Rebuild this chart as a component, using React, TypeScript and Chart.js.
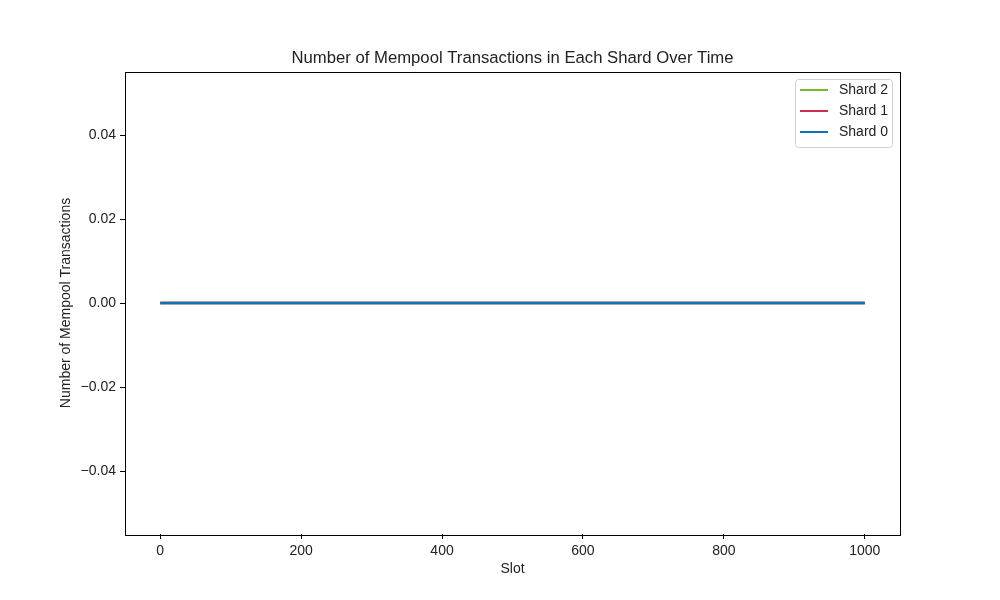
import React, { useEffect, useRef } from "react";
import { Chart, registerables } from "chart.js";

Chart.register(...registerables);

const slots = [0, 1000];
const shard0 = [0, 0];
const shard1 = [0, 0];
const shard2 = [0, 0];
const seriesNames = ["Shard 0", "Shard 1", "Shard 2"];
const seriesColors = ["#1270b5", "#cc2f4c", "#7ab930"];
const xTicks = [0, 200, 400, 600, 800, 1000];
const yTicks = [-0.04, -0.02, 0, 0.02, 0.04];
const yTickLabels = ["\u22120.04", "\u22120.02", "0.00", "0.02", "0.04"];
const title = "Number of Mempool Transactions in Each Shard Over Time";
const xLabel = "Slot";
const yLabel = "Number of Mempool Transactions";

const FONT = "'Liberation Sans', Arial, sans-serif";

export default function App() {
  const ref = useRef<HTMLCanvasElement | null>(null);
  useEffect(() => {
    if (!ref.current) return;
    const series = [shard0, shard1, shard2];
    const decor = {
      id: "decor",
      afterDraw(chart: any) {
        const ctx = chart.ctx;
        const a = chart.chartArea;
        ctx.save();
        ctx.strokeStyle = "#000";
        ctx.lineWidth = 1;
        ctx.strokeRect(Math.round(a.left) + 0.5, Math.round(a.top) + 0.5, Math.round(a.right - a.left), Math.round(a.bottom - a.top) + 1);
        ctx.fillStyle = "#222";
        ctx.textAlign = "center";
        ctx.textBaseline = "middle";
        ctx.font = `16.7px ${FONT}`;
        ctx.fillText(title, (a.left + a.right) / 2, 58);
        ctx.font = `14px ${FONT}`;
        ctx.fillText(xLabel, (a.left + a.right) / 2, 569);
        ctx.save();
        ctx.translate(66, (a.top + a.bottom) / 2);
        ctx.rotate(-Math.PI / 2);
        ctx.fillText(yLabel, 0, 0);
        ctx.restore();
        // legend
        const bx = 795.5, by = 79.5, bw = 97, bh = 68, r = 3;
        ctx.beginPath();
        ctx.moveTo(bx + r, by);
        ctx.arcTo(bx + bw, by, bx + bw, by + bh, r);
        ctx.arcTo(bx + bw, by + bh, bx, by + bh, r);
        ctx.arcTo(bx, by + bh, bx, by, r);
        ctx.arcTo(bx, by, bx + bw, by, r);
        ctx.closePath();
        ctx.fillStyle = "rgba(255,255,255,0.8)";
        ctx.fill();
        ctx.strokeStyle = "#d0d0d0";
        ctx.lineWidth = 1;
        ctx.stroke();
        const order = [2, 1, 0];
        order.forEach((si, i) => {
          const y = 90 + i * 21;
          ctx.strokeStyle = seriesColors[si];
          ctx.lineWidth = 2;
          ctx.beginPath();
          ctx.moveTo(800, y);
          ctx.lineTo(828, y);
          ctx.stroke();
          ctx.fillStyle = "#222";
          ctx.textAlign = "left";
          ctx.font = `14px ${FONT}`;
          ctx.fillText(seriesNames[si], 839, y + 0.5);
        });
        ctx.restore();
      },
    };
    const chart = new Chart(ref.current, {
      type: "line",
      data: {
        datasets: series.map((s, i) => ({
          label: seriesNames[i],
          data: slots.map((x, j) => ({ x, y: s[j] })),
          borderColor: seriesColors[i],
          backgroundColor: seriesColors[i],
          borderWidth: 2.5,
          pointRadius: 0,
          tension: 0,
        })),
      },
      options: {
        animation: false,
        responsive: false,
        maintainAspectRatio: false,
        layout: { padding: { left: 0, right: 100, top: 72, bottom: 0 } },
        plugins: { legend: { display: false }, title: { display: false }, tooltip: { enabled: false } },
        scales: {
          x: {
            type: "linear",
            min: -50,
            max: 1050,
            afterBuildTicks: (s: any) => { s.ticks = xTicks.map((v) => ({ value: v })); },
            afterFit: (s: any) => { s.height = 66; },
            grid: { display: true, drawOnChartArea: false, tickLength: 5, tickColor: "#000", color: "#000" },
            border: { display: false },
            ticks: { color: "#222", font: { family: FONT, size: 14 }, padding: 4, maxRotation: 0, autoSkip: false, callback: (v: any) => String(v) },
          },
          y: {
            type: "linear",
            min: -0.055,
            max: 0.055,
            afterBuildTicks: (s: any) => { s.ticks = yTicks.map((v) => ({ value: v })); },
            afterFit: (s: any) => { s.width = 125; },
            grid: { display: true, drawOnChartArea: false, tickLength: 5, tickColor: "#000", color: "#000" },
            border: { display: false },
            ticks: {
              color: "#222",
              font: { family: FONT, size: 14 },
              padding: 4,
              autoSkip: false,
              callback: (v: any) => { const k = yTicks.findIndex((t) => Math.abs(t - v) < 1e-9); return k >= 0 ? yTickLabels[k] : ""; },
            },
          },
        },
      },
      plugins: [decor],
    } as any);
    return () => chart.destroy();
  }, []);
  return (
    <div style={{ position: "fixed", left: 0, top: 0, width: 1000, height: 600, background: "#fff" }}>
      <canvas ref={ref} width={1000} height={600} style={{ width: 1000, height: 600 }} />
    </div>
  );
}
